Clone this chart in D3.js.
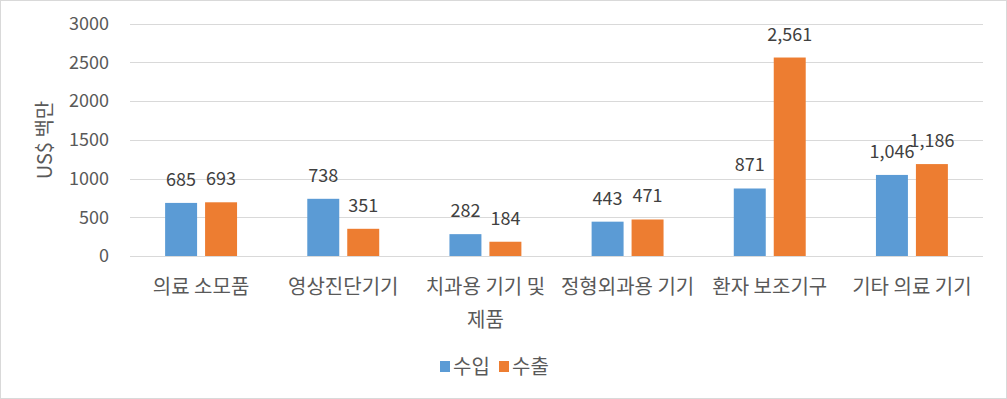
<!DOCTYPE html>
<html>
<head>
<meta charset="utf-8">
<script src="https://cdn.jsdelivr.net/npm/d3@7"></script>
<style>
  body { margin: 0; background: #fff; }
  svg { display: block; font-family: "Noto Sans CJK KR", "Noto Sans", sans-serif; }
</style>
</head>
<body>
<svg width="1007" height="399"></svg>
<script>
const categories = ['의료 소모품', '영상진단기기', '치과용 기기 및 제품', '정형외과용 기기', '환자 보조기구', '기타 의료 기기'];
const seriesNames = ['수입', '수출'];
const importVals = [685, 738, 282, 443, 871, 1046];
const exportVals = [693, 351, 184, 471, 2561, 1186];
const yTicks = [0, 500, 1000, 1500, 2000, 2500, 3000];
const colors = ['#5b9bd5', '#ed7d31'];

const svg = d3.select('svg');
const width = +svg.attr('width');
const height = +svg.attr('height');

// chart border
svg.append('rect')
  .attr('x', 0.5).attr('y', 0.5)
  .attr('width', width - 1).attr('height', height - 1)
  .attr('fill', '#fff').attr('stroke', '#d9d9d9');

const plot = { left: 130, right: 983, top: 23.5, bottom: 256 };

const x0 = d3.scaleBand()
  .domain(categories)
  .range([plot.left, plot.right])
  .paddingInner(0.494)
  .paddingOuter(0.247);

const x1 = d3.scaleBand()
  .domain(seriesNames)
  .range([0, x0.bandwidth()])
  .paddingInner(0.2);

const y = d3.scaleLinear()
  .domain([0, 3000])
  .range([plot.bottom, plot.top]);

// gridlines
svg.append('g')
  .selectAll('line')
  .data(yTicks)
  .join('line')
  .attr('x1', plot.left).attr('x2', plot.right)
  .attr('y1', d => Math.round(y(d)) + 0.5)
  .attr('y2', d => Math.round(y(d)) + 0.5)
  .attr('stroke', '#d9d9d9')
  .attr('stroke-width', 1);

// y axis labels
const yAxis = svg.append('g')
  .attr('transform', `translate(${plot.left - 21},0)`)
  .call(d3.axisLeft(y).tickValues(yTicks).tickFormat(d3.format('d')).tickSize(0).tickPadding(0));
yAxis.select('.domain').remove();
yAxis.selectAll('text')
  .attr('fill', '#595959')
  .style('font-size', '18px')
  .style('font-family', '"Noto Sans CJK KR", sans-serif');

// y title
svg.append('text')
  .attr('transform', 'translate(52,140) rotate(-90)')
  .attr('text-anchor', 'middle')
  .attr('fill', '#595959')
  .style('font-size', '20px')
  .text('US$ 백만');

const data = categories.map((c, i) => ({
  cat: c,
  vals: [
    { s: seriesNames[0], v: importVals[i] },
    { s: seriesNames[1], v: exportVals[i] }
  ]
}));

const groups = svg.append('g')
  .selectAll('g')
  .data(data)
  .join('g')
  .attr('transform', d => `translate(${x0(d.cat)},0)`);

groups.selectAll('rect')
  .data(d => d.vals)
  .join('rect')
  .attr('x', d => x1(d.s))
  .attr('y', d => y(d.v))
  .attr('width', x1.bandwidth())
  .attr('height', d => y(0) - y(d.v))
  .attr('fill', (d, i) => colors[i]);

const fmt = d3.format(',');
groups.selectAll('text.val')
  .data(d => d.vals)
  .join('text')
  .attr('class', 'val')
  .attr('x', d => x1(d.s) + x1.bandwidth() / 2)
  .attr('y', d => y(d.v) - 17)
  .attr('text-anchor', 'middle')
  .attr('fill', '#404040')
  .style('font-size', '18px')
  .text(d => fmt(d.v));

// category labels with wrapping
const catG = svg.append('g');
categories.forEach(c => {
  const t = catG.append('text')
    .attr('x', x0(c) + x0.bandwidth() / 2)
    .attr('y', 294)
    .attr('text-anchor', 'middle')
    .attr('fill', '#595959')
    .style('font-size', '20px');
  const words = c.split(' ');
  let line = [];
  let tspan = t.append('tspan').attr('x', t.attr('x')).attr('dy', 0);
  words.forEach(w => {
    line.push(w);
    tspan.text(line.join(' '));
    if (tspan.node().getComputedTextLength() > 142 && line.length > 1) {
      line.pop();
      tspan.text(line.join(' '));
      line = [w];
      tspan = t.append('tspan').attr('x', t.attr('x')).attr('dy', 33).text(w);
    }
  });
});

// legend
const legend = svg.append('g').attr('transform', 'translate(440,361)');
const li = legend.selectAll('g')
  .data(seriesNames)
  .join('g')
  .attr('transform', (d, i) => `translate(${i * 59},0)`);
li.append('rect')
  .attr('width', 10).attr('height', 11)
  .attr('fill', (d, i) => colors[i]);
li.append('text')
  .attr('x', 13).attr('y', 13)
  .attr('fill', '#595959')
  .style('font-size', '20px')
  .text(d => d);
</script>
</body>
</html>
